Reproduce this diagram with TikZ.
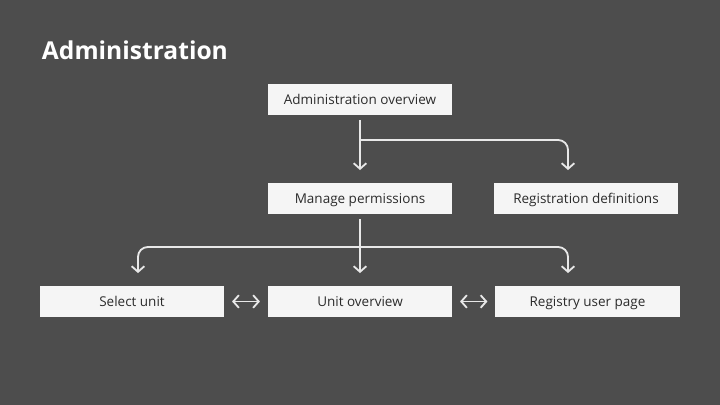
\documentclass[tikz,border=0pt]{standalone}
\usepackage{fontspec}
\setmainfont{Open Sans}
\usetikzlibrary{positioning, arrows.meta, calc}
\definecolor{bggray}{HTML}{4D4D4D}
\definecolor{boxfill}{HTML}{F5F5F5}
\definecolor{linegray}{HTML}{E8E8E8}
\definecolor{textdark}{HTML}{2B2B2B}

\begin{document}
\begin{tikzpicture}[
        x=0.025cm, y=-0.025cm,
        >={Straight Barb[length=4pt, width=9pt]},
        page/.style={rectangle, fill=boxfill, text=textdark, minimum width=4.6cm, minimum height=0.775cm, inner sep=0pt, text height=1.6ex, text depth=0.35ex, font=\fontsize{9.6}{11}\selectfont},
        link/.style={draw=linegray, line width=1.3pt, ->, shorten >=9pt},
        trunk/.style={link, shorten <=3.5pt},
        branch/.style={link, rounded corners=7pt},
        swap/.style={draw=linegray, line width=1.3pt, <->, shorten >=5.5pt, shorten <=5.5pt},
    ]

    % Background and title
    \fill[bggray] (0,0) rectangle (720,405);
    \node[anchor=west, text=white, font=\fontsize{17.5}{21}\bfseries] (title) at (37,50) {Administration};

    % Draw the page boxes
    \node[page] (admin) at (360,99.5) {Administration overview};
    \node[page] (manage) at (360,198.5) {Manage permissions};
    \node[page] (regdef) at (586,198.5) {Registration definitions};
    \node[page] (select) at (132,301.5) {Select unit};
    \node[page] (unit) at (360,301.5) {Unit overview};
    \node[page] (registry) at (587.5,301.5) {Registry user page};

    % Split points of the branches
    \coordinate (split1) at (360,140);
    \coordinate (split2) at (360,247);

    % Connect the overview with its sub pages
    \draw[trunk] (admin) -- (manage);
    \draw[branch] (split1) -| ($(regdef.north)+(-18,0)$);

    % Connect the permissions page with the unit pages
    \draw[trunk] (manage) -- (unit);
    \draw[branch] (split2) -| ($(select.north)+(6,0)$);
    \draw[branch] (split2) -| ($(registry.north)+(-19.5,0)$);

    % Two-way links in the bottom row
    \foreach \source / \dest in {select/unit, unit/registry}
        \draw[swap] (\source) -- (\dest);
\end{tikzpicture}
\end{document}
